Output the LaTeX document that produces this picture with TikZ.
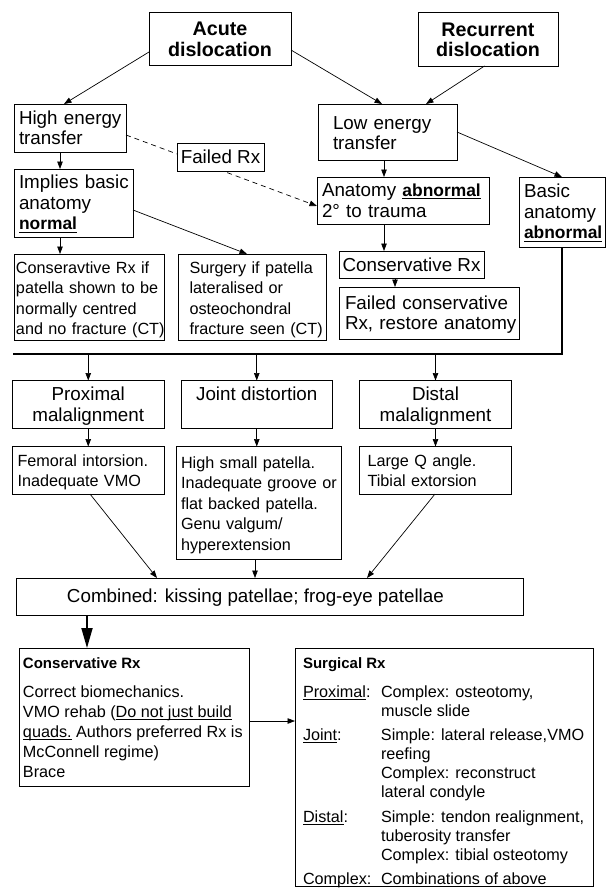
\documentclass[tikz,border=0pt]{standalone}
\usepackage{fontspec}
\setmainfont{Liberation Sans}
\usetikzlibrary{arrows.meta,calc}
\newsavebox\myulbox
\newcommand\myul[1]{\leavevmode\sbox\myulbox{#1}\rlap{\rule[-2.8pt]{\wd\myulbox}{1.1pt}}\usebox\myulbox}
\newcommand\fbig{\fontsize{18.8}{20.5}\selectfont}
\newcommand\fsm{\fontsize{16.2}{20.5}\selectfont}
\newcommand\fhead{\fontsize{19.7}{20}\selectfont\bfseries}
\newcommand\ubf[1]{{\fontsize{17.4}{20.5}\selectfont\bfseries\myul{#1}}}
\newcommand\myl[1]{\begin{tabular}{@{}l@{}}\rule{0pt}{19pt}#1\end{tabular}}
\newcommand\myc[1]{\begin{tabular}{@{}c@{}}\rule{0pt}{19pt}#1\end{tabular}}
\begin{document}
\begin{tikzpicture}[x=1pt,y=-1pt,
  box/.style={draw=black, line width=0.8pt, anchor=north west, inner ysep=0pt, outer sep=0pt},
  arr/.style={line width=0.7pt, -{Triangle[length=7.5pt,width=5.5pt]}},
  dsh/.style={line width=0.7pt, dash pattern=on 5pt off 4pt, -{Triangle[length=7.5pt,width=5.5pt]}}]
\useasboundingbox (0,0) rectangle (607,888);
% top row
\node[box, minimum width=142pt, minimum height=53pt, font=\fhead, align=center] (acute) at (149,12) {\begin{tabular}{@{}c@{}}\rule{0pt}{21pt}Acute\\dislocation\end{tabular}};
\node[box, minimum width=140pt, minimum height=54pt, font=\fhead, align=center] (recur) at (418,12) {\begin{tabular}{@{}c@{}}\rule{0pt}{21pt}Recurrent\\dislocation\end{tabular}};
% second row
\node[box, minimum width=112pt, minimum height=48pt, inner xsep=5pt, text width=102pt, align=left, font=\fbig] (high) at (14,104) {\myl{High energy\\transfer}};
\node[box, minimum width=139pt, minimum height=56pt, inner xsep=15pt, text width=109pt, align=left, font=\fbig] (low) at (318,104) {\begin{tabular}{@{}l@{}}\rule{0pt}{21pt}Low energy\\transfer\end{tabular}};
\node[box, minimum width=119pt, minimum height=68pt, inner xsep=5pt, text width=109pt, align=left, font=\fbig] (implies) at (14,169) {\myl{Implies basic\\anatomy\\\ubf{normal}}};
\node[box, minimum width=172pt, minimum height=47pt, inner xsep=5pt, text width=162pt, align=left, font=\fbig] (anat) at (317,177) {\myl{Anatomy \ubf{abnormal}\\2° to trauma}};
\node[box, minimum width=86pt, minimum height=70pt, inner xsep=5pt, text width=76pt, align=left, font=\fbig] (basic) at (519,177) {\myl{Basic\\anatomy\\\ubf{abnormal}}};
\node[box, minimum width=145pt, minimum height=27pt, font=\fbig, align=center] (consR) at (339,251) {Conservative Rx};
\node[box, minimum width=180pt, minimum height=52.5pt, inner xsep=6pt, text width=168pt, align=left, font=\fbig] (failcons) at (339,287) {\myl{Failed conservative\\Rx, restore anatomy}};
\node[box, minimum width=150pt, minimum height=85pt, inner xsep=1.5pt, text width=147pt, align=left, font=\fsm] (consif) at (14.5,254) {\myl{Conseravtive Rx if\\patella shown to be\\normally centred\\and no fracture (CT)}};
\node[box, minimum width=148pt, minimum height=85pt, inner xsep=11pt, text width=126pt, align=left, font=\fsm] (surgif) at (178.5,254) {\myl{Surgery if patella\\lateralised or\\osteochondral\\fracture seen (CT)}};
% connectors top
\draw[arr] ($(acute.north west)+(0,40)$) -- ($(high.north west)+(50,0)$);
\draw[arr] ($(acute.north east)+(0,38)$) -- ($(low.north west)+(64,0)$);
\draw[arr] ($(recur.south west)+(66.5,0)$) -- ($(low.north west)+(108,0)$);
\draw[arr] ($(high.south west)+(46,0)$) -- ($(implies.north west)+(46,0)$);
\draw[arr] ($(low.south west)+(66,0)$) -- ($(anat.north west)+(67,0)$);
\draw[arr] ($(low.north east)+(0,28)$) -- ($(basic.north west)+(43,0)$);
\draw[arr] ($(implies.north east)+(0,41)$) -- ($(surgif.north west)+(68.5,0)$);
\draw[arr] ($(implies.south west)+(46,0)$) -- ($(consif.north west)+(45.5,0)$);
\draw[arr] ($(anat.south west)+(67,0)$) -- ($(consR.north west)+(45,0)$);
\draw[arr] ($(consR.south west)+(56,0)$) -- ($(failcons.north west)+(56,0)$);
\draw[dsh] ($(high.north east)+(0,31)$) -- ($(anat.north west)+(0,29)$);
\node[box, minimum width=87pt, minimum height=28pt, font=\fbig, align=center, fill=white] (failed) at (177,143) {Failed Rx};
% collector line
\coordinate (lineL) at (13,354);
\draw[line width=1.3pt] (basic.south) |- (lineL);
% malalignment row
\node[box, minimum width=151.5pt, minimum height=48pt, font=\fbig, align=center] (prox) at (12.5,380.5) {\myc{Proximal\\malalignment}};
\node[box, minimum width=151.5pt, minimum height=48pt, font=\fbig, align=center] (joint) at (181,380.5) {\myc{Joint distortion\\\mbox{}}};
\node[box, minimum width=152pt, minimum height=48pt, font=\fbig, align=center] (distal) at (359.5,380.5) {\myc{Distal\\malalignment}};
\draw[arr] (prox.north |- lineL) -- (prox.north);
\draw[arr] (joint.north |- lineL) -- (joint.north);
\draw[arr] (distal.north |- lineL) -- (distal.north);
% detail row
\node[box, minimum width=151.5pt, minimum height=47.5pt, inner xsep=5pt, text width=141.5pt, align=left, font=\fsm] (femoral) at (12.5,446.5) {\myl{Femoral intorsion.\\Inadequate VMO}};
\node[box, minimum width=165pt, minimum height=113pt, inner xsep=5pt, text width=155pt, align=left, font=\fsm] (highsmall) at (176,446.5) {\myl{High small patella.\\Inadequate groove or\\flat backed patella.\\Genu valgum/\\hyperextension}};
\node[box, minimum width=152pt, minimum height=47.5pt, inner xsep=8pt, text width=136pt, align=left, font=\fsm] (largeQ) at (359.5,446.5) {\myl{Large Q angle.\\Tibial extorsion}};
\draw[arr] (prox.south) -- (femoral.north);
\draw[arr] (joint.south) -- (joint.south |- highsmall.north);
\draw[arr] (distal.south) -- (largeQ.north);
% combined
\node[box, minimum width=507pt, minimum height=37pt, inner xsep=0pt, font=\fontsize{18.8}{22}\selectfont] (combined) at (16,578) {\makebox[507pt][l]{\hspace{51pt}\rule{0pt}{16pt}Combined: kissing patellae; frog-eye patellae}};
\draw[arr] ($(femoral.south west)+(77.5,0)$) -- ($(combined.north west)+(141,0)$);
\draw[arr] ($(highsmall.south west)+(79,0)$) -- ($(combined.north west)+(239,0)$);
\draw[arr] ($(largeQ.south west)+(75.5,0)$) -- ($(combined.north west)+(351,0)$);
% bottom boxes
\node[box, inner xsep=4pt, minimum width=230pt, minimum height=138pt] (conserv) at (19,648) {\parbox[t][138pt][t]{222pt}{\fontsize{16.2}{20}\selectfont\rule{0pt}{20.5pt}{\fontsize{15}{20}\selectfont\bfseries Conservative Rx}\\[9pt]
Correct biomechanics.\\
VMO rehab (\myul{Do not just build}\\
\myul{quads.} Authors preferred Rx is\\
McConnell regime)\\
Brace}};
\node[box, inner xsep=8pt, minimum width=298pt, minimum height=238.5pt] (surgical) at (295,648) {\parbox[t][238.5pt][t]{282pt}{\fontsize{16.2}{19}\selectfont\rule{0pt}{20.5pt}{\fontsize{15}{20}\selectfont\bfseries Surgical Rx}\par\vspace{9.5pt}%
\begin{tabular}[t]{@{}p{78pt}@{}l@{}}
\myul{Proximal}: & Complex: osteotomy,\\
 & muscle slide\\[5.5pt]
\myul{Joint}: & Simple: lateral release,VMO\\
 & reefing\\
 & Complex: reconstruct\\
 & lateral condyle\\[5.5pt]
\myul{Distal}: & Simple: tendon realignment,\\
 & tuberosity transfer\\
 & Complex: tibial osteotomy\\[5.5pt]
\myul{Complex}: & Combinations of above
\end{tabular}}};
\draw[line width=1.8pt, -{Triangle[length=20pt,width=11pt]}] ($(combined.south west)+(71,0)$) -- ($(conserv.north west)+(68,0)$);
\draw[arr] ($(conserv.north east)+(0,73)$) -- ($(surgical.north west)+(0,73)$);
\end{tikzpicture}
\end{document}
